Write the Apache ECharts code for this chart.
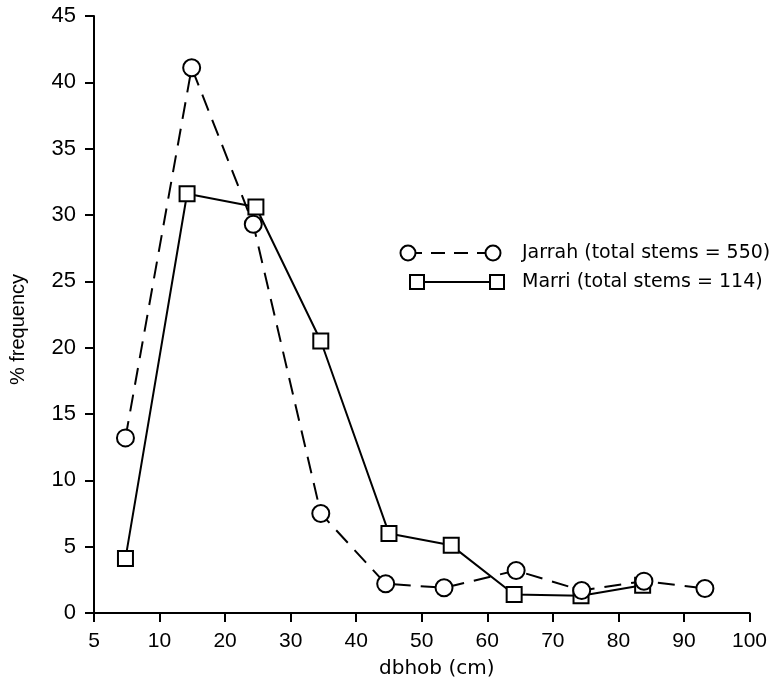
<!DOCTYPE html>
<html>
<head>
<meta charset="utf-8">
<script src="https://cdn.jsdelivr.net/npm/echarts@6/dist/echarts.min.js"></script>
<style>
  html, body { margin: 0; padding: 0; background: #fff; }
  #chart { width: 770px; height: 691px; }
</style>
</head>
<body>
<div id="chart"></div>
<script>
// Stem diameter (dbhob) class distribution for two eucalypt species
const xTickLabels = ['5', '10', '20', '30', '40', '50', '60', '70', '80', '90', '100'];

const jarrahName = 'Jarrah (total stems = 550)';
const jarrahDbh = [4.8, 14.9, 24.3, 34.6, 44.5, 53.4, 64.4, 74.4, 83.9, 93.2];
const jarrahPct = [13.2, 41.1, 29.3, 7.5, 2.2, 1.9, 3.2, 1.7, 2.4, 1.85];

const marriName = 'Marri (total stems = 114)';
const marriDbh = [4.8, 14.2, 24.7, 34.6, 45.0, 54.5, 64.1, 74.3, 83.7];
const marriPct = [4.1, 31.6, 30.6, 20.5, 6.0, 5.1, 1.4, 1.3, 2.1];

const pairs = (xs, ys) => xs.map((x, i) => [x, ys[i]]);

const FONT = 'Liberation Sans';
const WIDE = 'DejaVu Sans';
const INK = '#000';

const chart = echarts.init(document.getElementById('chart'), null, { renderer: 'canvas' });

// Legend drawn as marker–line–marker swatches followed by the label
function legendRow(y, x1, x2, symbol, dashed, label) {
  const mk = (cx) => symbol === 'circle'
    ? { type: 'circle', shape: { cx: cx, cy: y, r: 7.5 }, style: { fill: '#fff', stroke: INK, lineWidth: 2 }, z: 2 }
    : { type: 'rect', shape: { x: cx - 7, y: y - 7, width: 14, height: 14 }, style: { fill: '#fff', stroke: INK, lineWidth: 2 }, z: 2 };
  return [
    { type: 'line', shape: { x1: x1, y1: y, x2: x2, y2: y },
      style: { stroke: INK, lineWidth: 2, lineDash: dashed ? [14, 9] : null }, z: 1 },
    mk(x1), mk(x2),
    { type: 'text', x: 522, y: y, style: { text: label, font: '19px "' + WIDE + '"', fill: INK, verticalAlign: 'middle', align: 'left' }, z: 2 }
  ];
}

const option = {
  animation: false,
  backgroundColor: '#fff',
  grid: { left: 92, right: 18, top: 16, bottom: 78, containLabel: false },
  xAxis: {
    type: 'value',
    min: 0, max: 100, interval: 10,
    name: 'dbhob (cm)',
    nameLocation: 'middle',
    nameGap: 46,
    nameTextStyle: { fontFamily: WIDE, fontSize: 20, color: INK, padding: [0, 0, 0, 30] },
    axisLine: { show: true, lineStyle: { color: INK, width: 2 } },
    axisTick: { show: true, inside: false, length: 9, lineStyle: { color: INK, width: 2 } },
    axisLabel: {
      fontFamily: FONT, fontSize: 21, color: INK, margin: 18,
      formatter: (v) => xTickLabels[Math.round(v / 10)]
    },
    splitLine: { show: false }
  },
  yAxis: {
    type: 'value',
    min: 0, max: 45, interval: 5,
    name: '% frequency',
    nameLocation: 'middle',
    nameGap: 66,
    nameRotate: 90,
    nameTextStyle: { fontFamily: FONT, fontSize: 20, color: INK, padding: [0, 30, 0, 0] },
    axisLine: { show: true, lineStyle: { color: INK, width: 2 } },
    axisTick: { show: true, inside: false, length: 9, lineStyle: { color: INK, width: 2 } },
    axisLabel: { fontFamily: FONT, fontSize: 22, color: INK, margin: 18 },
    splitLine: { show: false }
  },
  series: [
    {
      name: marriName,
      type: 'line',
      data: pairs(marriDbh, marriPct),
      symbol: 'rect',
      symbolSize: 15,
      showAllSymbol: true,
      lineStyle: { color: INK, width: 2, type: 'solid' },
      itemStyle: { color: '#fff', borderColor: INK, borderWidth: 2 },
      emphasis: { disabled: true },
      z: 2
    },
    {
      name: jarrahName,
      type: 'line',
      data: pairs(jarrahDbh, jarrahPct),
      symbol: 'circle',
      symbolSize: 17,
      showAllSymbol: true,
      lineStyle: { color: INK, width: 2, type: [17, 10] },
      itemStyle: { color: '#fff', borderColor: INK, borderWidth: 2 },
      emphasis: { disabled: true },
      z: 3
    }
  ],
  graphic: [
    { type: 'group', children: legendRow(253, 408, 493, 'circle', true, jarrahName) },
    { type: 'group', children: legendRow(282, 417, 497, 'rect', false, marriName) }
  ]
};

chart.setOption(option);
</script>
</body>
</html>
